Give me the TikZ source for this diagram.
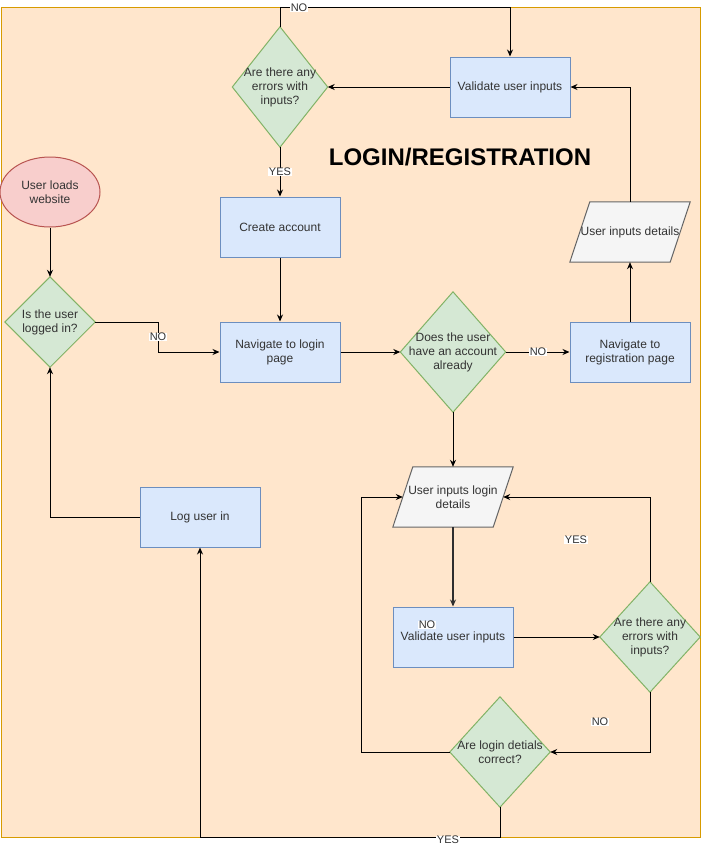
\documentclass[tikz,border=0pt]{standalone}
\usepackage{fontspec}
\setmainfont{Liberation Sans}
\usetikzlibrary{arrows.meta,calc,shapes.geometric}
\pgfdeclarelayer{back}\pgfdeclarelayer{bg}
\pgfsetlayers{back,bg,main}
\definecolor{bgfill}{HTML}{FFE6CC}
\definecolor{bgdraw}{HTML}{D79B00}
\definecolor{bluefill}{HTML}{DAE8FC}
\definecolor{bluedraw}{HTML}{6C8EBF}
\definecolor{greenfill}{HTML}{D5E8D4}
\definecolor{greendraw}{HTML}{82B366}
\definecolor{redfill}{HTML}{F8CECC}
\definecolor{reddraw}{HTML}{B85450}
\definecolor{grayfill}{HTML}{F5F5F5}
\definecolor{graydraw}{HTML}{666666}
\definecolor{txt}{HTML}{333333}
\begin{document}
\begin{tikzpicture}[x=1pt,y=-1pt,
  every node/.style={font=\fontsize{12}{14}\selectfont, text=txt, align=center, inner sep=0pt},
  box/.style={draw=bluedraw, fill=bluefill, line width=1pt, minimum width=120pt, minimum height=60pt},
  dia/.style 2 args={minimum width=#1, minimum height=#2},
  para/.style={minimum width=100pt, minimum height=60pt},
  diashape/.style={draw=greendraw, fill=greenfill, line width=1pt},
  parashape/.style={draw=graydraw, fill=grayfill, line width=1pt},
  arr/.style={-{Stealth[length=7pt,width=6pt]}, line width=1pt, black},
  lbl/.style={fill=white, font=\fontsize{11}{13}\selectfont, text=txt, inner sep=0.5pt}
]
\useasboundingbox (0,0) rectangle (701,847);
\begin{pgfonlayer}{back}
  \fill[white] (0,0) rectangle (701,847);
  \filldraw[fill=bgfill, draw=bgdraw, line width=1pt] (1,7) rectangle (700,837);
\end{pgfonlayer}

% nodes
\node[ellipse, draw=reddraw, fill=redfill, line width=1pt, minimum width=100pt, minimum height=70pt] (start) at (50,192) {User loads\\website};
\node[dia={90pt}{90pt}] (d2) at (50,322) {Is the user\\logged in?};
\node[dia={95pt}{120pt}] (d1) at (280,87) {Are there any\\errors with\\inputs?};
\node[box] (v1) at (510,87) {Validate user inputs};
\node[para] (p1) at (630,232) {User inputs details};
\node[box] (reg) at (630,352) {Navigate to\\registration page};
\node[dia={105pt}{120pt}] (d3) at (453,352) {Does the user\\have an account\\already};
\node[box] (login) at (280,352) {Navigate to login\\page};
\node[box] (create) at (280,227) {Create account};
\node[para] (p2) at (453,497) {User inputs login\\details};
\node[box] (v2) at (453,637) {Validate user inputs};
\node[dia={100pt}{110pt}] (d4) at (650,637) {Are there any\\errors with\\inputs?};
\node[dia={100pt}{110pt}] (d5) at (500,752) {Are login detials\\correct?};
\node[box] (log) at (200,517) {Log user in};
\node[font=\bfseries\fontsize{24}{28}\selectfont, text=black] (title) at (460,157) {LOGIN/REGISTRATION};

\begin{pgfonlayer}{bg}
  \foreach \n in {d1,d2,d3,d4,d5}
    \path[diashape] (\n.north) -- (\n.east) -- (\n.south) -- (\n.west) -- cycle;
  \foreach \n in {p1,p2}
    \path[parashape] ($(\n.north west)+(10,0)$) -- ($(\n.north east)+(10,0)$) -- ($(\n.south east)+(-10,0)$) -- ($(\n.south west)+(-10,0)$) -- cycle;
\end{pgfonlayer}

% free corner points
\coordinate (topc) at (280,7);
\coordinate (lc) at (361,752);
\coordinate (bc) at (500,837);
\coordinate (nc) at (158,322);

% connectors
\draw[arr] (start.south) -- (d2.north);
\draw[arr] (d2.east) -- (nc) |- (login.west);
\draw[arr] (d1.south) -- (create.north);
\draw[arr] (create.south) -- (login.north);
\draw[arr] (login.east) -- (d3.west);
\draw[arr] (d3.east) -- (reg.west);
\draw[arr] (reg.north) -- (p1.south);
\draw[arr] (p1.north) |- (v1.east);
\draw[arr] (v1.west) -- (d1.east);
\draw[arr] (d1.north) -- (topc) -| (v1.north);
\draw[arr] (d3.south) -- (p2.north);
\draw[-{Stealth[length=7pt,width=6pt]}, line width=1.5pt, black!55!graydraw] (p2.south) -- (v2.north);
\draw[arr] (v2.east) -- (d4.west);
\draw[arr] (d4.north) |- (p2.east);
\draw[arr] (d4.south) |- (d5.east);
\draw[arr] (d5.west) -- (lc) |- (p2.west);
\draw[arr] (d5.south) -- (bc) -| (log.south);
\draw[arr] (log.west) -| (d2.south);

% labels
\node[lbl] (l1) at (158,337) {NO};
\node[lbl] (l2) at (280,172) {YES};
\node[lbl] (l3) at (538,352) {NO};
\node[lbl] (l4) at (299,8) {NO};
\node[lbl] (l5) at (576,540) {YES};
\node[lbl] (l6) at (600,722) {NO};
\node[lbl] (l7) at (448,840) {YES};
\node[lbl] (l8) at (427,625) {NO};
\end{tikzpicture}
\end{document}
